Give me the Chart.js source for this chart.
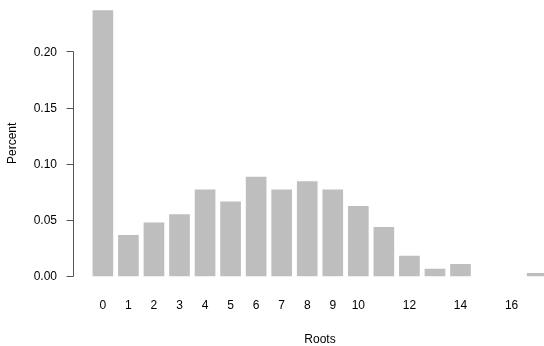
<!DOCTYPE html>
<html>
<head>
<meta charset="utf-8">
<script src="https://cdn.jsdelivr.net/npm/chart.js@4/dist/chart.umd.min.js"></script>
<style>
  html, body { margin: 0; padding: 0; background: #ffffff; overflow: hidden; }
  #wrap { width: 544px; height: 346px; position: relative; overflow: hidden; }
</style>
</head>
<body>
<div id="wrap"><canvas id="c" width="566" height="346"></canvas></div>
<script>
// ---- data ----
const roots = [0, 1, 2, 3, 4, 5, 6, 7, 8, 9, 10, 11, 12, 13, 14, 15, 16, 17];
const percent = [0.2363, 0.0363, 0.0473, 0.0547, 0.0767, 0.0660, 0.0880, 0.0767, 0.0841,
                 0.0767, 0.0621, 0.0434, 0.0178, 0.0062, 0.0104, 0, 0, 0.0024];
const xTickLabels = [0, 1, 2, 3, 4, 5, 6, 7, 8, 9, 10, 12, 14, 16];
const yTickValues = [0, 0.05, 0.10, 0.15, 0.20];
const xTitle = 'Roots';
const yTitle = 'Percent';

const FONT = 'Liberation Sans, Arial, Helvetica, sans-serif';

const axisPlugin = {
  id: 'rAxis',
  afterDraw(chart) {
    const ys = chart.scales.y;
    const ctx = chart.ctx;
    const x = Math.round(chart.chartArea.left) - 0.5;
    ctx.save();
    ctx.strokeStyle = '#555555';
    ctx.lineWidth = 1;
    ctx.beginPath();
    const yTop = Math.round(ys.getPixelForValue(yTickValues[yTickValues.length - 1])) + 0.5;
    const yBot = Math.round(ys.getPixelForValue(yTickValues[0])) + 0.5;
    ctx.moveTo(x, yTop);
    ctx.lineTo(x, yBot);
    yTickValues.forEach(v => {
      const py = Math.round(ys.getPixelForValue(v)) + 0.5;
      ctx.moveTo(x - 7, py);
      ctx.lineTo(x, py);
    });
    ctx.stroke();
    ctx.restore();
  }
};

new Chart(document.getElementById('c'), {
  type: 'bar',
  data: {
    datasets: [{
      // zero-height bars are not drawn (as in the reference)
      data: roots.map((r, i) => ({ x: r, y: percent[i] === 0 ? null : percent[i] })),
      backgroundColor: '#bebebe',
      borderWidth: 0,
      barThickness: 20
    }]
  },
  options: {
    responsive: false,
    devicePixelRatio: 1,
    animation: false,
    layout: { padding: 0 },
    plugins: { legend: { display: false }, tooltip: { enabled: false } },
    scales: {
      x: {
        type: 'linear',
        offset: false,
        min: -1.13,
        max: 18.13,
        grid: { display: false, drawTicks: false },
        border: { display: false },
        afterBuildTicks(scale) { scale.ticks = xTickLabels.map(v => ({ value: v })); },
        afterFit(scale) { scale.height = 59.4; scale.paddingLeft = 0; scale.paddingRight = 0; },
        ticks: {
          autoSkip: false,
          maxRotation: 0,
          padding: 12,
          color: '#000000',
          font: { family: FONT, size: 12 },
          callback: v => String(v)
        },
        title: {
          display: true,
          text: xTitle,
          color: '#000000',
          font: { family: FONT, size: 12, lineHeight: 1 },
          padding: { top: 0, bottom: 0 }
        }
      },
      y: {
        type: 'linear',
        min: -0.00945,
        max: 0.24575,
        grid: { display: false, drawTicks: false },
        border: { display: false },
        afterBuildTicks(scale) { scale.ticks = yTickValues.map(v => ({ value: v })); },
        afterFit(scale) { scale.width = 74; scale.paddingTop = 0; scale.paddingBottom = 0; },
        ticks: {
          padding: 17,
          labelOffset: 1,
          color: '#000000',
          font: { family: FONT, size: 12 },
          callback: v => v.toFixed(2)
        },
        title: {
          display: true,
          text: yTitle,
          color: '#000000',
          font: { family: FONT, size: 12, lineHeight: 1 },
          padding: { top: 7, bottom: 0 }
        }
      }
    }
  },
  plugins: [axisPlugin]
});
</script>
</body>
</html>
